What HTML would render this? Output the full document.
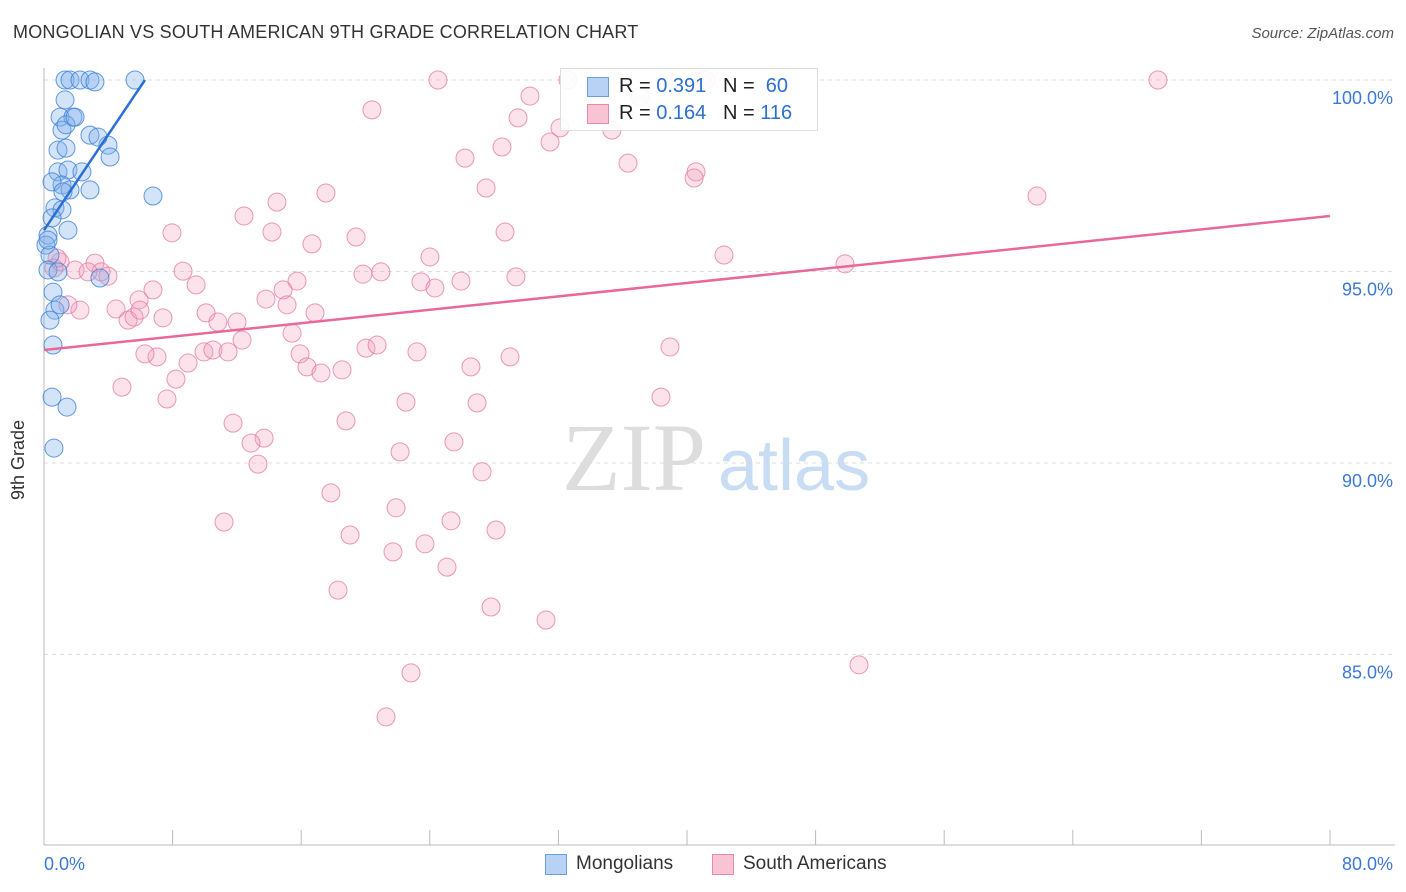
<!DOCTYPE html>
<html><head><meta charset="utf-8"><style>
body{margin:0;background:#fff;font-family:"Liberation Sans",sans-serif;}
#wrap{position:relative;width:1406px;height:892px;overflow:hidden;}
.t{position:absolute;white-space:nowrap;}
</style></head><body>
<div id="wrap">
<div class="t" style="left:13px;top:22px;font-size:18px;color:#333;letter-spacing:0.2px">MONGOLIAN VS SOUTH AMERICAN 9TH GRADE CORRELATION CHART</div>
<div class="t" style="right:12px;top:25px;font-size:15px;color:#555;font-style:italic">Source: ZipAtlas.com</div>
<div class="t" style="left:8px;top:455px;font-size:18px;color:#333;transform:rotate(-90deg);transform-origin:left top;top:500px">9th Grade</div>
<svg id="svg" width="1406" height="892" style="position:absolute;left:0;top:0"></svg>
<div style="position:absolute;left:560px;top:68px;width:256px;height:61px;border:1px solid #ddd;background:rgba(255,255,255,0.9)">
 <div style="position:absolute;left:26px;top:8px;width:20px;height:18px;background:#b8d2f5;border:1px solid #6a9ee0"></div>
 <div class="t" style="left:58px;top:6px;font-size:20px;color:#222">R = <span style="color:#2d6fd0">0.391</span>&nbsp;&nbsp; N = &nbsp;<span style="color:#2d6fd0">60</span></div>
 <div style="position:absolute;left:26px;top:35px;width:20px;height:18px;background:#f8c4d4;border:1px solid #e68aaa"></div>
 <div class="t" style="left:58px;top:33px;font-size:20px;color:#222">R = <span style="color:#2d6fd0">0.164</span>&nbsp;&nbsp; N = <span style="color:#2d6fd0">116</span></div>
</div>
<div style="position:absolute;left:545px;top:854px;width:20px;height:19px;background:#b8d2f5;border:1px solid #6a9ee0"></div>
<div class="t" style="left:576px;top:853px;font-size:19px;color:#333">Mongolians</div>
<div style="position:absolute;left:712px;top:854px;width:20px;height:19px;background:#f8c4d4;border:1px solid #e68aaa"></div>
<div class="t" style="left:743px;top:853px;font-size:19px;color:#333">South Americans</div>
</div>
<script>
const yTicks=[100,95,90,85];
const yTickLabels=["100.0%","95.0%","90.0%","85.0%"];
const xTickLabels=["0.0%","80.0%"];
const blueX=[1.31,1.62,2.24,2.86,3.17,5.66,1.31,1.0,1.80,1.12,1.37,0.87,1.37,2.86,3.98,4.11,0.87,1.49,1.12,1.62,2.86,2.36,0.5,0.68,1.12,0.5,1.49,0.25,0.12,0.37,0.25,0.56,0.68,0.37,1.0,0.56,0.5,1.43,0.62,6.78,3.48,0.25,0.87,1.18,1.93,3.36];
const blueY=[100,100,100,100,99.95,100,99.48,99.03,99.03,98.69,98.83,98.17,98.22,98.56,98.30,97.99,97.60,97.65,97.26,97.13,97.13,97.60,97.34,96.66,96.61,96.40,96.08,95.95,95.69,95.43,95.04,94.46,93.99,93.73,94.13,93.08,91.72,91.46,90.39,96.97,94.83,95.82,94.99,97.08,99.03,98.51];
const pinkX=[24.51,32.6,69.3,20.4,30.23,29.49,32.1,31.48,28.49,26.19,36.33,40.56,40.44,27.5,17.54,14.49,61.77,12.44,7.96,14.18,16.67,19.41,28.68,24.01,42.3,49.83,8.65,3.17,1.93,3.55,19.84,20.96,15.74,23.45,25.94,29.36,24.32,9.46,6.78,14.87,5.91,13.81,15.12,4.48,10.08,5.23,5.6,7.4,10.82,12.01,16.86,15.43,12.32,7.03,6.28,9.95,10.51,11.45,15.93,20.03,20.72,23.2,38.94,28.99,8.96,16.36,17.23,18.54,26.56,8.21,4.85,7.65,22.52,26.94,38.38,11.76,18.79,13.69,12.88,25.5,22.15,13.31,27.25,17.85,21.9,11.2,25.32,28.12,19.04,23.7,21.71,25.07,18.29,27.81,31.23,50.7,22.83,21.28,1.0,0.62,2.24,1.49,5.97,0.81,2.74,3.98,37.08,41.18,35.33];
const pinkY=[100,100,100,99.22,99.58,99.01,98.75,98.38,98.25,97.96,97.83,97.6,97.44,97.18,97.05,96.81,96.97,96.45,96.01,96.03,95.72,95.9,96.03,95.38,95.43,95.2,95.01,95.22,95.04,94.99,94.93,94.99,94.75,94.73,94.75,94.86,94.57,94.65,94.52,94.52,94.26,94.28,94.13,94.02,93.92,93.73,93.81,93.79,93.68,93.68,93.92,93.39,93.21,92.77,92.85,92.9,92.95,92.9,92.85,93.0,93.08,92.9,93.03,92.77,92.61,92.51,92.35,92.43,92.51,92.19,91.98,91.67,91.59,91.57,91.72,91.04,91.1,90.65,90.52,90.55,90.29,89.97,89.77,89.22,88.83,88.46,88.49,88.25,88.12,87.89,87.68,87.28,86.68,86.24,85.9,84.73,84.52,83.37,95.25,95.09,93.99,94.13,93.99,95.35,94.99,94.88,99.56,100,98.69];
const blueTrend=[[0,96.08],[6.28,100]];
const pinkTrend=[[0,92.95],[80,96.45]];
const X=v=>44+v/80*1286;
const Y=v=>80+(100-v)*38.3;
const NS="http://www.w3.org/2000/svg";
const svg=document.getElementById('svg');
function mk(tag,attrs){const e=document.createElementNS(NS,tag);for(const k in attrs)e.setAttribute(k,attrs[k]);svg.appendChild(e);return e;}
yTicks.forEach((v,i)=>{
 const g=mk('line',{x1:44,x2:1395,y1:Y(v),y2:Y(v),stroke:'#ddd','stroke-dasharray':'4,4'});
 
 
 const t=mk('text',{x:1393,y:Y(v)+24,'text-anchor':'end','font-size':18,fill:'#3b78d8','font-family':'Liberation Sans, sans-serif'});
 t.textContent=yTickLabels[i];
 
 
});
const wm1=mk('text',{x:634,y:490,'text-anchor':'middle','font-size':96,fill:'#ddd','font-family':'Liberation Serif, serif'});wm1.textContent='ZIP';


const wm2=mk('text',{x:718,y:490,'font-size':72,fill:'#c8dcf4','font-family':'Liberation Sans, sans-serif'});wm2.textContent='atlas';


const ax=mk('line',{x1:44,x2:1395,y1:845,y2:845,stroke:'#bbb'});


const ay=mk('line',{x1:44,x2:44,y1:68,y2:845,stroke:'#bbb'});


for(let i=0;i<=10;i++){const tk=mk('line',{x1:X(i*8),x2:X(i*8),y1:830,y2:845,stroke:'#bbb'});
 
 }
[[0,'start',44],[80,'end',1393]].forEach(([v,a,x],i)=>{const t=mk('text',{x:x,y:870,'text-anchor':a,'font-size':18,fill:'#3b78d8','font-family':'Liberation Sans, sans-serif'});t.textContent=xTickLabels[i];
 
 });
pinkX.forEach((v,i)=>{const c=mk('circle',{cx:X(v),cy:Y(pinkY[i]),r:9,fill:'rgba(243,160,188,0.3)',stroke:'rgba(228,120,160,0.75)','stroke-width':1});
 
 });
blueX.forEach((v,i)=>{const c=mk('circle',{cx:X(v),cy:Y(blueY[i]),r:9,fill:'rgba(130,175,235,0.35)',stroke:'rgba(60,130,215,0.8)','stroke-width':1});
 
 });
const pl=mk('line',{x1:X(pinkTrend[0][0]),y1:Y(pinkTrend[0][1]),x2:X(pinkTrend[1][0]),y2:Y(pinkTrend[1][1]),stroke:'#e8689a','stroke-width':2.5});


const bl=mk('line',{x1:X(blueTrend[0][0]),y1:Y(blueTrend[0][1]),x2:X(blueTrend[1][0]),y2:Y(blueTrend[1][1]),stroke:'#2a6fd6','stroke-width':2.5});


</script>
</body></html>
